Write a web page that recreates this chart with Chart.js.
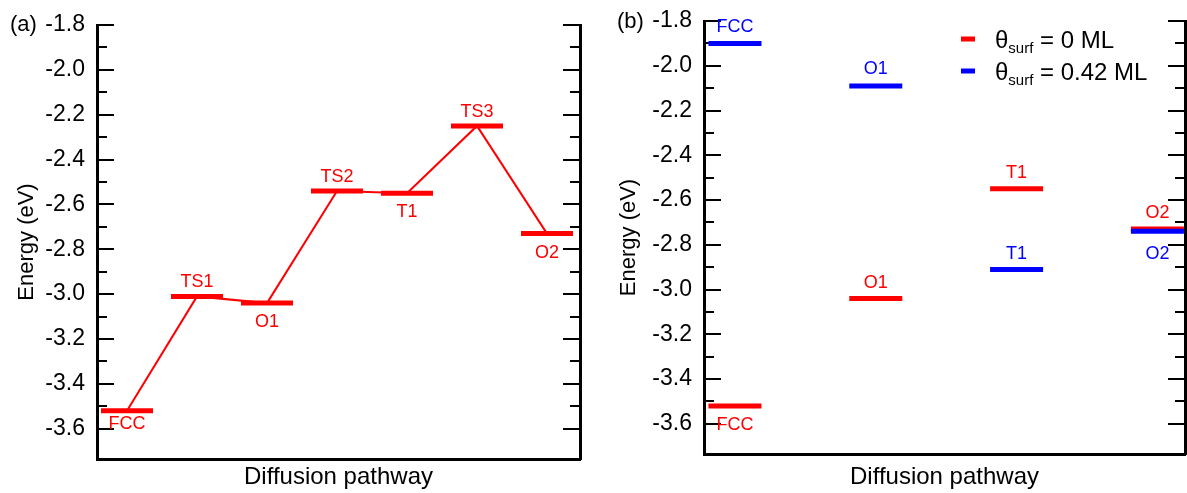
<!DOCTYPE html>
<html><head><meta charset="utf-8">
<script src="https://cdn.jsdelivr.net/npm/chart.js@4.4.1/dist/chart.umd.min.js"></script>
<style>
html,body{margin:0;padding:0;background:#fff;overflow:hidden}
#wrap{position:relative;width:1187px;height:493px;background:#fff}
#ca{position:absolute;left:0;top:0}
#cb{position:absolute;left:600px;top:0}
</style></head><body>
<div id="wrap"><canvas id="ca" width="600" height="493"></canvas><canvas id="cb" width="587" height="493"></canvas></div>
<script>
// ---- Data ----
const pathSites = ['FCC','TS1','O1','TS2','T1','TS3','O2'];
const pathEnergy = [-3.52,-3.01,-3.04,-2.54,-2.55,-2.25,-2.73];
const siteLabels = ['FCC','O1','T1','O2'];
const energy0ML = [-3.52,-3.04,-2.55,-2.73];
const energy042ML = [-1.90,-2.09,-2.91,-2.74];
const majorTicks = [-1.8,-2.0,-2.2,-2.4,-2.6,-2.8,-3.0,-3.2,-3.4,-3.6];
const minorTicks = [-1.9,-2.1,-2.3,-2.5,-2.7,-2.9,-3.1,-3.3,-3.5];
const seriesNames = ['0 ML','0.42 ML'];
const yMax = -1.8, yMin = -3.735;

// ---- Style ----
const FONT = '"Liberation Sans", Arial, Helvetica, sans-serif';
const RED = '#ff0000', BLUE = '#0000ff';
const aLabelDy = [13,-14,19,-14,19,-14,19];
const bRedDy = [19,-15,-16,-16];
const bBlueDy = [-16,-17,-15,23];

function noPad(s){ s.paddingTop = 0; s.paddingBottom = 0; s.paddingLeft = 0; s.paddingRight = 0; }
function yAxes(axisWidth, titlePad){
  const common = {type:'linear', min:yMin, max:yMax, bounds:'data'};
  return {
    y: Object.assign({}, common, {position:'left', weight:1,
      afterFit: s => { s.width = axisWidth; noPad(s); },
      afterBuildTicks: s => { s.ticks = majorTicks.map(v => ({value:v})); },
      ticks:{callback: v => Number(v).toFixed(1), font:{size:23, family:FONT}, color:'#000', padding:29, autoSkip:false},
      grid:{drawOnChartArea:false, drawTicks:true, tickLength:-17, tickWidth:2, lineWidth:2, tickColor:'#000'},
      border:{display:true, color:'#000', width:3},
      title:{display:true, text:'Energy (eV)', color:'#000', font:{size:22, family:FONT}, padding:{top:titlePad, bottom:0}}
    }),
    yMinorL: Object.assign({}, common, {position:'left', weight:0,
      afterFit: s => { s.width = 0; noPad(s); },
      afterBuildTicks: s => { s.ticks = minorTicks.map(v => ({value:v})); },
      ticks:{display:false},
      grid:{drawOnChartArea:false, drawTicks:true, tickLength:-10, tickWidth:2, lineWidth:2, tickColor:'#000'},
      border:{display:false}
    }),
    yR: Object.assign({}, common, {position:'right', weight:1,
      afterFit: s => { s.width = 0; noPad(s); },
      afterBuildTicks: s => { s.ticks = majorTicks.map(v => ({value:v})); },
      ticks:{display:false},
      grid:{drawOnChartArea:false, drawTicks:true, tickLength:-17, tickWidth:2, lineWidth:2, tickColor:'#000'},
      border:{display:true, color:'#000', width:3}
    }),
    yMinorR: Object.assign({}, common, {position:'right', weight:0,
      afterFit: s => { s.width = 0; noPad(s); },
      afterBuildTicks: s => { s.ticks = minorTicks.map(v => ({value:v})); },
      ticks:{display:false},
      grid:{drawOnChartArea:false, drawTicks:true, tickLength:-10, tickWidth:2, lineWidth:2, tickColor:'#000'},
      border:{display:false}
    })
  };
}
function xAxis(xmin, xmax, h){
  return {type:'linear', position:'bottom', min:xmin, max:xmax, bounds:'data',
    afterFit: s => { s.height = h; noPad(s); },
    ticks:{display:false},
    grid:{display:false, drawTicks:false, drawOnChartArea:false},
    border:{display:true, color:'#000', width:3},
    title:{display:true, text:'Diffusion pathway', color:'#000', font:{size:24, family:FONT}, padding:{top:0, bottom:1}}
  };
}
function levelSet(vals, color, radius, order){
  return {data: vals.map((y,i)=>({x:i, y:y})), pointStyle:'line', pointRadius:radius, pointHoverRadius:radius,
    pointBorderWidth:5, pointHoverBorderWidth:5, borderColor:color, backgroundColor:color, showLine:false, order:order, xAxisID:'x', yAxisID:'y'};
}
function labelPlugin(id, groups, panelText, panelX, panelY, legend){
  return {id:id, afterDraw(chart){
    const ctx = chart.ctx, xs = chart.scales.x, ys = chart.scales.y;
    ctx.save();
    ctx.textAlign = 'center'; ctx.textBaseline = 'middle';
    ctx.font = '18px ' + FONT;
    groups.forEach(g => {
      ctx.fillStyle = g.color;
      g.vals.forEach((v,i) => {
        ctx.fillText(g.names[i], xs.getPixelForValue(i), ys.getPixelForValue(v) + g.dy[i]);
      });
    });
    ctx.fillStyle = '#000'; ctx.textAlign = 'left'; ctx.font = '22px ' + FONT;
    ctx.fillText(panelText, panelX, panelY);
    if (legend) {
      const colors = [RED, BLUE];
      seriesNames.forEach((n, k) => {
        const cy = 39 + 32*k;
        ctx.fillStyle = colors[k];
        ctx.fillRect(361, cy - 2.5, 14, 5);
        ctx.fillStyle = '#000';
        ctx.textBaseline = 'alphabetic';
        let x = 395; const base = cy + 8.5;
        ctx.font = '24px ' + FONT; ctx.fillText('\u03b8', x, base); x += ctx.measureText('\u03b8').width;
        ctx.font = '15px ' + FONT; ctx.fillText('surf', x, base + 5); x += ctx.measureText('surf').width;
        ctx.font = '24px ' + FONT; ctx.fillText(' = ' + n, x, base);
      });
    }
    ctx.restore();
  }};
}
const baseOpts = {responsive:false, animation:false, events:[], devicePixelRatio:1,
  plugins:{legend:{display:false}, tooltip:{enabled:false}}};

// ---- Panel (a) ----
new Chart(document.getElementById('ca'), {
  type:'scatter',
  data:{datasets:[
    levelSet(pathEnergy, RED, 26, 0),
    {data: pathEnergy.map((y,i)=>({x:i, y:y})), showLine:true, borderColor:RED, borderWidth:2, pointRadius:0, pointHoverRadius:0, order:1, xAxisID:'x', yAxisID:'y'}
  ]},
  options: Object.assign({}, baseOpts, {
    layout:{autoPadding:false, padding:{top:25, right:20, left:0, bottom:0}},
    scales: Object.assign({x: xAxis(-0.4286, 6.4714, 34)}, yAxes(97, 14))
  }),
  plugins:[labelPlugin('lblA', [{vals:pathEnergy, names:pathSites, color:RED, dy:aLabelDy}], '(a)', 10, 25, false)]
});

// ---- Panel (b) ----
new Chart(document.getElementById('cb'), {
  type:'scatter',
  data:{datasets:[
    levelSet(energy042ML, BLUE, 26.5, 0),
    levelSet(energy0ML, RED, 26.5, 1)
  ]},
  options: Object.assign({}, baseOpts, {
    layout:{autoPadding:false, padding:{top:21, right:2, left:0, bottom:0}},
    scales: Object.assign({x: xAxis(-0.22, 3.196, 39)}, yAxes(104, 16))
  }),
  plugins:[labelPlugin('lblB', [
    {vals:energy0ML, names:siteLabels, color:RED, dy:bRedDy},
    {vals:energy042ML, names:siteLabels, color:BLUE, dy:bBlueDy}
  ], '(b)', 17, 22, true)]
});
</script>
</body></html>
